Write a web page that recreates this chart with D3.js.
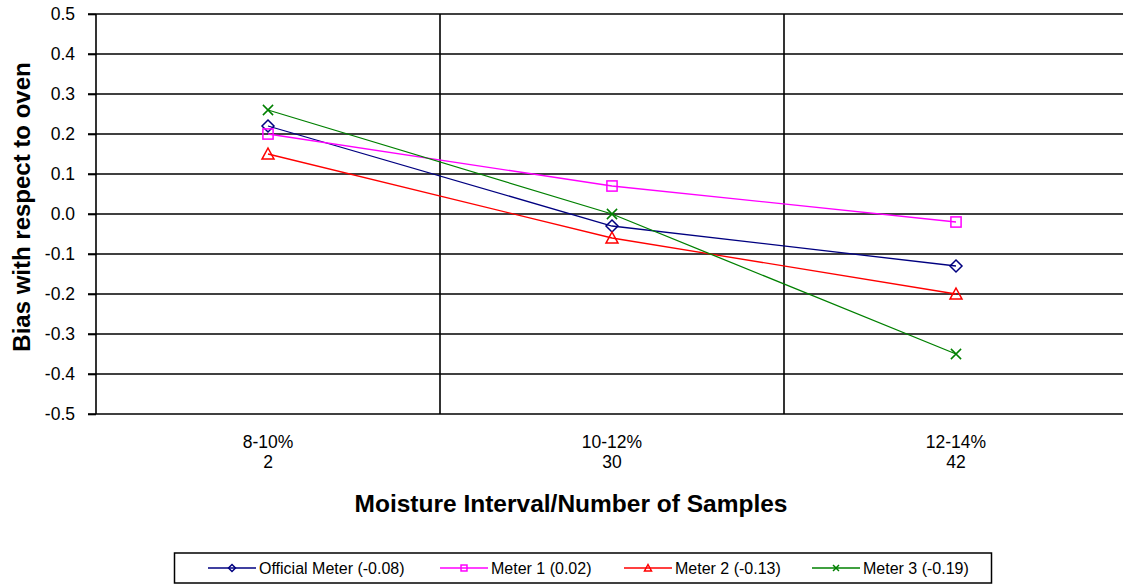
<!DOCTYPE html>
<html>
<head>
<meta charset="utf-8">
<script src="https://cdn.jsdelivr.net/npm/d3@7"></script>
<style>
  body { margin: 0; background: #fff; }
  text { font-family: "Liberation Sans", Arial, sans-serif; fill: #000; }
  .tick-label { font-size: 17.5px; }
  .axis-title { font-weight: bold; }
  .legend-text { font-size: 16px; }
</style>
</head>
<body>
<div id="chart"></div>
<script>
const categories = ['8-10%', '10-12%', '12-14%'];
const sampleCounts = ['2', '30', '42'];
const yTicks = [0.5, 0.4, 0.3, 0.2, 0.1, 0, -0.1, -0.2, -0.3, -0.4, -0.5];

const seriesNames = ['Official Meter (-0.08)', 'Meter 1 (0.02)', 'Meter 2 (-0.13)', 'Meter 3 (-0.19)'];
const officialMeter = [0.22, -0.03, -0.13];
const meter1 = [0.20, 0.07, -0.02];
const meter2 = [0.15, -0.06, -0.20];
const meter3 = [0.26, 0.00, -0.35];

const colors = ['#000080', '#ff00ff', '#ff0000', '#008000'];
const shapes = ['diamond', 'square', 'triangle', 'cross'];

const series = [officialMeter, meter1, meter2, meter3].map((vals, i) => ({
  name: seriesNames[i], color: colors[i], shape: shapes[i],
  values: vals.map((v, j) => ({cat: categories[j], v: v}))
}));

const W = 1123, H = 584;
const margin = {top: 14, left: 96};
const plotW = 1032, plotH = 400;

const svg = d3.select('#chart').append('svg')
  .attr('width', W)
  .attr('height', H);

const x = d3.scaleBand().domain(categories).range([0, plotW]).padding(0);
const y = d3.scaleLinear().domain([-0.5, 0.5]).range([plotH, 0]);

const g = svg.append('g')
  .attr('transform', 'translate(' + margin.left + ',' + margin.top + ')');

// horizontal gridlines
g.selectAll('line.hgrid')
  .data(yTicks)
  .enter().append('line')
  .attr('class', 'hgrid')
  .attr('x1', -8).attr('x2', plotW)
  .attr('y1', d => y(d)).attr('y2', d => y(d))
  .attr('stroke', '#000')
  .attr('stroke-width', 1.6);

// vertical gridlines on category boundaries
g.selectAll('line.vgrid')
  .data(categories.slice(1))
  .enter().append('line')
  .attr('class', 'vgrid')
  .attr('x1', d => x(d)).attr('x2', d => x(d))
  .attr('y1', 0).attr('y2', plotH)
  .attr('stroke', '#000')
  .attr('stroke-width', 1.6);

// y axis
const yAxis = d3.axisLeft(y)
  .tickValues(yTicks)
  .tickFormat(d => d.toFixed(1))
  .tickSize(8)
  .tickPadding(13);
const yAxisG = g.append('g').call(yAxis);
yAxisG.select('.domain').attr('stroke-width', 1.6).attr('d', 'M0,0V' + plotH);
yAxisG.selectAll('.tick line').attr('stroke-width', 1.6);
yAxisG.selectAll('.tick text')
  .attr('class', 'tick-label')
  .style('font-family', '"Liberation Sans", Arial, sans-serif')
  .style('font-size', '17.5px');

// x category labels
const xLabels = g.append('g').selectAll('text')
  .data(categories)
  .enter().append('text')
  .attr('class', 'tick-label')
  .attr('text-anchor', 'middle')
  .attr('x', d => x(d) + x.bandwidth() / 2)
  .attr('y', 447.5 - margin.top);
xLabels.append('tspan').text(d => d);
xLabels.append('tspan')
  .attr('x', d => x(d) + x.bandwidth() / 2)
  .attr('dy', 20.5)
  .text((d, i) => sampleCounts[i]);

// lines
const line = d3.line()
  .x(d => x(d.cat) + x.bandwidth() / 2)
  .y(d => y(d.v));

g.selectAll('path.series')
  .data(series)
  .enter().append('path')
  .attr('class', 'series')
  .attr('d', d => line(d.values))
  .attr('fill', 'none')
  .attr('stroke', d => d.color)
  .attr('stroke-width', 1.3);

function drawMarker(sel, shape, color, s) {
  if (shape === 'diamond') {
    sel.append('path').attr('d', 'M0,' + (-s) + 'L' + s + ',0L0,' + s + 'L' + (-s) + ',0Z')
      .attr('fill', 'none').attr('stroke', color).attr('stroke-width', 1.5);
  } else if (shape === 'square') {
    sel.append('rect').attr('x', -s * 0.85).attr('y', -s * 0.85)
      .attr('width', s * 1.7).attr('height', s * 1.7)
      .attr('fill', 'none').attr('stroke', color).attr('stroke-width', 1.5);
  } else if (shape === 'triangle') {
    sel.append('path').attr('d', 'M0,' + (-s) + 'L' + s + ',' + (s * 0.85) + 'L' + (-s) + ',' + (s * 0.85) + 'Z')
      .attr('fill', 'none').attr('stroke', color).attr('stroke-width', 1.5);
  } else {
    const c = s * 0.85;
    sel.append('path').attr('d', 'M' + (-c) + ',' + (-c) + 'L' + c + ',' + c + 'M' + (-c) + ',' + c + 'L' + c + ',' + (-c))
      .attr('fill', 'none').attr('stroke', color).attr('stroke-width', 1.5);
  }
}

series.forEach(s => {
  g.selectAll(null)
    .data(s.values)
    .enter().append('g')
    .attr('transform', d => 'translate(' + (x(d.cat) + x.bandwidth() / 2) + ',' + y(d.v) + ')')
    .each(function() { drawMarker(d3.select(this), s.shape, s.color, 6); });
});

// axis titles
svg.append('text')
  .attr('class', 'axis-title')
  .style('font-size', '24px')
  .attr('text-anchor', 'middle')
  .attr('transform', 'translate(30,207) rotate(-90)')
  .text('Bias with respect to oven');

svg.append('text')
  .attr('class', 'axis-title')
  .style('font-size', '24.5px')
  .attr('text-anchor', 'middle')
  .attr('x', 571)
  .attr('y', 512)
  .text('Moisture Interval/Number of Samples');

// legend
const legend = svg.append('g').attr('class', 'legend');
legend.append('rect')
  .attr('x', 174.5).attr('y', 553)
  .attr('width', 817).attr('height', 30)
  .attr('fill', '#fff').attr('stroke', '#000').attr('stroke-width', 1.5);

const legendX = [208, 440, 624, 812];
const item = legend.selectAll('g.item')
  .data(series)
  .enter().append('g')
  .attr('class', 'item')
  .attr('transform', (d, i) => 'translate(' + legendX[i] + ',568)');
item.append('line')
  .attr('x1', 0).attr('x2', 48)
  .attr('stroke', d => d.color)
  .attr('stroke-width', 1.5);
item.each(function(d) { drawMarker(d3.select(this).append('g').attr('transform', 'translate(24,0)'), d.shape, d.color, 3.5); });
item.append('text')
  .attr('class', 'legend-text')
  .attr('x', 51)
  .attr('y', 6)
  .text(d => d.name);
</script>
</body>
</html>
